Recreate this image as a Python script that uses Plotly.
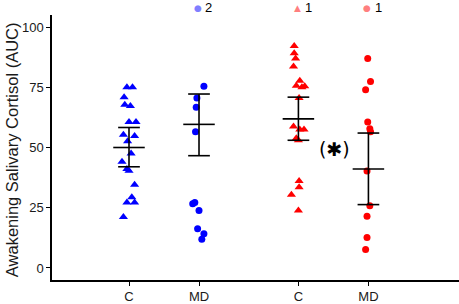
import plotly.graph_objects as go

# ---- data ----
tick_labels = ["C", "MD", "C", "MD"]
group_pos = [1.0, 2.0, 3.42, 4.42]
group_colors = ["#0000FF", "#0000FF", "#FF0000", "#FF0000"]
group_faded = ["rgba(0,0,255,0.5)", "rgba(0,0,255,0.5)", "rgba(255,0,0,0.5)", "rgba(255,0,0,0.5)"]
group_symbols = ["triangle-up", "circle", "triangle-up", "circle"]
group_glyphs = ["▲", "●", "▲", "●"]

c1_vals = [75.0, 75.0, 70.9, 67.7, 67.2, 60.6, 60.6, 55.3, 54.8, 52.6,
           47.5, 44.1, 41.1, 40.4, 34.5, 29.3, 27.2, 27.2, 21.2]
c1_jit = [-0.03, 0.05, -0.07, -0.06, 0.02, 0.0, 0.10, -0.08, 0.08, -0.02,
          0.03, -0.10, -0.03, 0.0, 0.08, 0.04, -0.03, 0.08, -0.08]

md1_vals = [75.4, 70.5, 66.7, 56.5, 27.2, 26.7, 23.8, 16.3, 14.2, 11.9]
md1_jit = [0.07, -0.03, -0.04, -0.05, -0.06, -0.09, 0.0, -0.02, 0.07, 0.04]

c2_vals = [92.1, 89.1, 86.9, 83.6, 77.7, 75.6, 75.0, 75.4, 70.5, 58.7,
           57.5, 57.5, 53.8, 53.0, 36.1, 33.5, 30.4, 23.8]
c2_jit = [-0.06, -0.06, -0.04, -0.07, 0.02, -0.03, 0.05, 0.09, 0.01, -0.07,
          0.02, 0.08, -0.03, 0.0, 0.01, 0.01, -0.10, 0.0]

md2_vals = [86.9, 77.4, 74.0, 60.6, 57.8, 56.5, 40.2, 25.8, 21.5, 12.6, 7.7]
md2_jit = [-0.01, 0.03, -0.04, -0.01, 0.02, 0.03, -0.02, 0.02, -0.02, -0.02, -0.04]

means = [50.0, 59.6, 61.9, 41.1]
lowers = [42.0, 46.6, 53.0, 26.3]
uppers = [58.3, 72.2, 70.9, 56.0]

offscale_counts = ["2", "1", "1"]
offscale_groups = [1, 2, 3]

Y_MIN, Y_MAX = -5, 105
offscale_y = 108.0

FONT = "Liberation Sans, Arial, sans-serif"

# ---- figure ----
fig = go.Figure()
vals_all = [c1_vals, md1_vals, c2_vals, md2_vals]
jit_all = [c1_jit, md1_jit, c2_jit, md2_jit]

for i in range(4):
    xs = [group_pos[i] + j for j in jit_all[i]]
    sz = 8 if group_symbols[i] == "triangle-up" else 7
    fig.add_trace(go.Scatter(
        x=xs, y=vals_all[i], mode="markers",
        marker=dict(symbol=group_symbols[i], color=group_colors[i], size=sz, line=dict(width=0)),
        showlegend=False, hoverinfo="y"))

# error bars (mean with interval)
cap_hw = 0.155
mean_hw = 0.225
for i in range(4):
    x0 = group_pos[i]
    ex = [x0, x0, None, x0 - cap_hw, x0 + cap_hw, None, x0 - cap_hw, x0 + cap_hw, None,
          x0 - mean_hw, x0 + mean_hw]
    ey = [lowers[i], uppers[i], None, lowers[i], lowers[i], None, uppers[i], uppers[i], None,
          means[i], means[i]]
    fig.add_trace(go.Scatter(x=ex, y=ey, mode="lines", line=dict(color="black", width=1.6),
                             showlegend=False, hoverinfo="skip"))

# off-scale counts above the panel (y in paper units, x through the x scale)
off_paper = (offscale_y - Y_MIN) / (Y_MAX - Y_MIN)
for k, g in enumerate(offscale_groups):
    fig.add_annotation(x=group_pos[g] - 0.02, y=off_paper, yref="paper", text=group_glyphs[g],
                       showarrow=False, xanchor="center", yanchor="middle",
                       font=dict(size=9, color=group_faded[g], family="DejaVu Sans, sans-serif"))
    fig.add_annotation(x=group_pos[g] + 0.06, y=off_paper, yref="paper", text=offscale_counts[k],
                       showarrow=False, xanchor="left", yanchor="middle",
                       font=dict(size=13, color="black", family=FONT))

fig.add_annotation(x=group_pos[3] - 0.48, y=49.5, text="(✱)", showarrow=False,
                   font=dict(size=19, color="black", family="DejaVu Sans, sans-serif"))

# y-axis title placed left of the tick labels
fig.add_annotation(xref="paper", yref="paper", x=-40 / 407, y=0.49, text="Awakening Salivary Cortisol (AUC)",
                   textangle=-90, showarrow=False, xanchor="center", yanchor="middle",
                   font=dict(size=16.5, color="#1a1a1a", family=FONT))

fig.update_layout(
    width=459, height=304,
    margin=dict(l=52, r=0, t=15, b=21),
    plot_bgcolor="white", paper_bgcolor="white",
    font=dict(family=FONT, color="black"),
    xaxis=dict(range=[-0.1, 5.714], tickmode="array", tickvals=group_pos, ticktext=tick_labels,
               showgrid=False, zeroline=False, showline=True, linecolor="black", linewidth=1.5,
               ticks="outside", ticklen=4, tickcolor="black", tickwidth=1,
               tickfont=dict(size=13, color="#1a1a1a")),
    yaxis=dict(range=[Y_MIN, Y_MAX], tickvals=[0, 25, 50, 75, 100],
               showgrid=False, zeroline=False, showline=True, linecolor="black", linewidth=1.5,
               ticks="outside", ticklen=4, tickcolor="black", tickwidth=1,
               tickfont=dict(size=13, color="#1a1a1a")),
)

fig.write_html("out.html", config={"displayModeBar": False},
               post_script="document.body.style.margin='0';document.body.style.padding='0';")
